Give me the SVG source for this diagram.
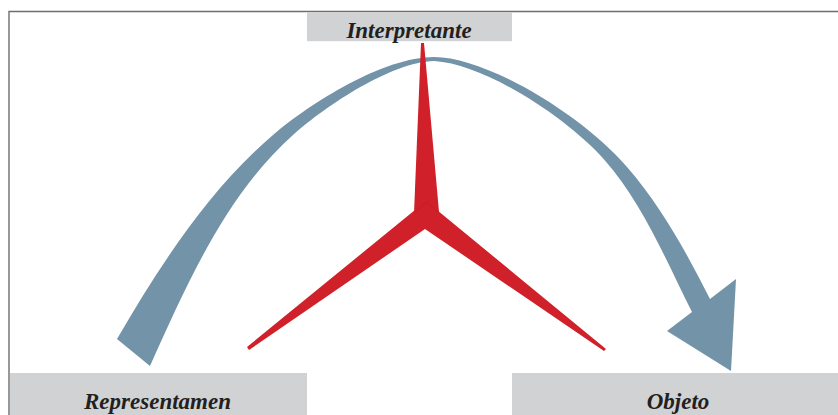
<svg xmlns="http://www.w3.org/2000/svg" width="838" height="415" viewBox="0 0 838 415">
<style>
.box{fill:#d1d2d4}
.lbl{font-family:"Liberation Serif",serif;font-style:italic;font-weight:bold;font-size:23px;fill:#231f20;text-anchor:middle}
.frame{stroke:#6d6e71;stroke-width:1.4;fill:none}
.arc{fill:#7393a8}
.red{fill:#d0202a}
</style>
<rect width="838" height="415" fill="#ffffff"/>
<path class="frame" d="M9,415 V11.5 H838"/>
<g id="connectors">
<path class="arc" d="M117,339 C159.5,266 208.4,190.3 273,135 C311,102.5 384,57 434,57 C486,57 580.8,113.8 627,167 C661.3,206.5 686.6,252.7 710,299 L736,279 L731,371 L667,331 L692,312 C666,260.4 642.8,203.5 604.5,160 C568.2,118.8 486,64 434,61 C392,62 326.8,104.9 293,135 C225.5,195.3 186.9,284.1 150,366 Z"/>
</g>
<g id="semiosis-star">
<path class="red" d="M421,43 L424,43 L439,212 L426,228 L414,213 Z"/>
<path class="red" d="M247,347 L426,201 L606,349 L604,351 L425,229 L249,350 Z"/>
<path d="M415,213 L426,202 L438,212" fill="none" stroke="#b71c24" stroke-width="1" stroke-opacity="0.6"/>
</g>
<g id="node-interpretante">
<rect class="box" x="307" y="12.2" width="205" height="29"/>
<text class="lbl" x="409" y="38">Interpretante</text>
</g>
<g id="node-representamen">
<rect class="box" x="10" y="373" width="297" height="42"/>
<text class="lbl" x="157.5" y="409">Representamen</text>
</g>
<g id="node-objeto">
<rect class="box" x="512" y="373" width="326" height="42"/>
<text class="lbl" x="678" y="409">Objeto</text>
</g>
</svg>
